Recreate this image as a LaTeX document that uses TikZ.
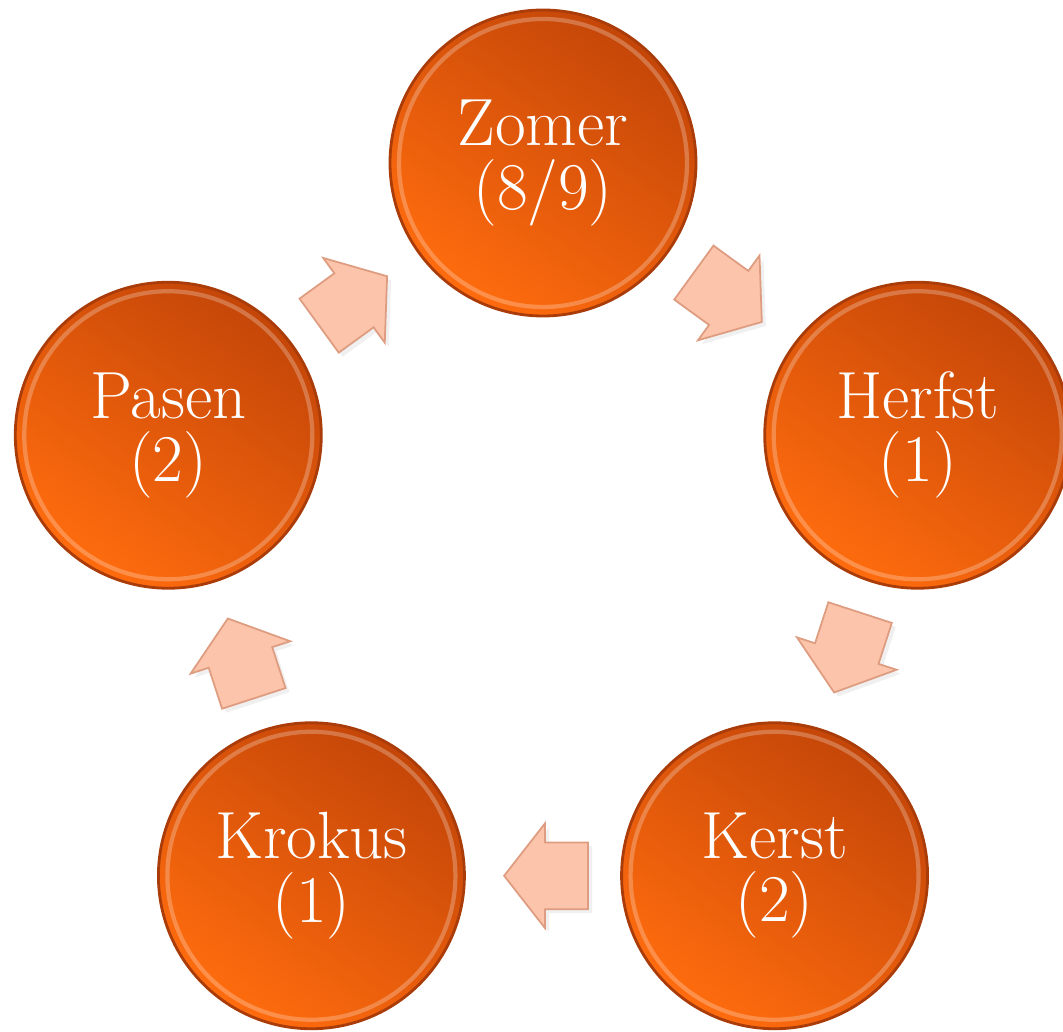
\documentclass[tikz,border=0pt]{standalone}
\usetikzlibrary{shapes.arrows,calc,shadows}
\definecolor{seasondark}{RGB}{196,70,8}
\definecolor{seasonlight}{RGB}{255,108,14}
\definecolor{seasonrim}{RGB}{170,60,10}
\definecolor{turnfill}{RGB}{252,196,170}
\definecolor{turnedge}{RGB}{222,156,128}

\begin{document}
\begin{tikzpicture}[
        season/.style={circle, minimum size=3.06cm, inner sep=0pt, draw=seasonrim, line width=0.8pt,
            top color=seasondark, bottom color=seasonlight, shading angle=-35,
            text=white, align=center, font=\fontsize{19}{18}\selectfont,
            path picture={\draw[white, opacity=0.25, line width=1.2pt] (path picture bounding box.center) circle (1.44cm);}},
        turn/.style={single arrow, draw=turnedge, fill=turnfill, line width=0.5pt, anchor=tip,
            inner xsep=0pt, inner ysep=0.325cm, minimum height=0.84cm,
            single arrow head extend=0.19cm, single arrow tip angle=104,
            drop shadow={opacity=0.12, shadow xshift=0.04cm, shadow yshift=-0.04cm}}
    ]
        \useasboundingbox (-5.43,-4.74) rectangle (5.20,5.57);

        % seasons round the year
        \node[season] (zomer) at (90:3.94) {Zomer\\(8/9)};
        \node[season] (herfst) at (18:3.94) {Herfst\\(1)};
        \node[season] (kerst) at (-54:3.94) {Kerst\\(2)};
        \node[season] (krokus) at (-126:3.94) {Krokus\\(1)};
        \node[season] (pasen) at (162:3.94) {Pasen\\(2)};

        % block arrows between them
        \node[turn, rotate=-36] (z2h) at ($(zomer)!0.5!(herfst)!0.4cm!(herfst)$) {};
        \node[turn, rotate=-108] (h2k) at ($(herfst)!0.5!(kerst)!0.4cm!(kerst)$) {};
        \node[turn, rotate=180] (k2k) at ($(kerst)!0.5!(krokus)!0.4cm!(krokus)$) {};
        \node[turn, rotate=108] (k2p) at ($(krokus)!0.5!(pasen)!0.4cm!(pasen)$) {};
        \node[turn, rotate=36] (p2z) at ($(pasen)!0.5!(zomer)!0.4cm!(zomer)$) {};
    \end{tikzpicture}
\end{document}
